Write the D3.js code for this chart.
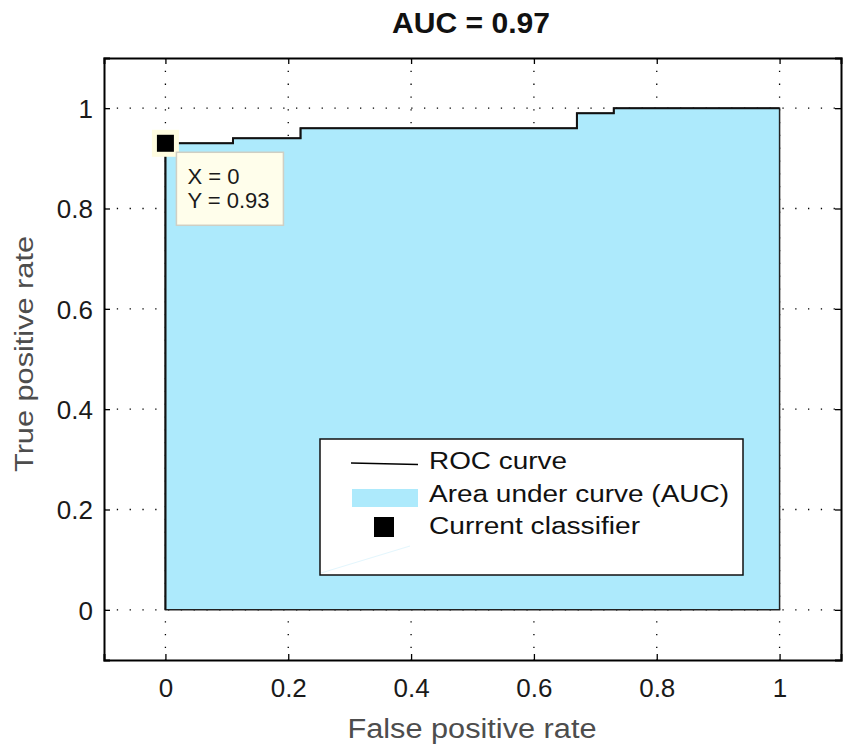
<!DOCTYPE html>
<html>
<head>
<meta charset="utf-8">
<script src="https://cdn.jsdelivr.net/npm/d3@7"></script>
<style>
body { margin: 0; background: #fff; }
text { font-family: "Liberation Sans", Arial, Helvetica, sans-serif; }
</style>
</head>
<body>
<script>
// ROC steps
var fpr = [0, 0, 0.11, 0.11, 0.22, 0.22, 0.67, 0.67, 0.73, 0.73, 1.0];
var tpr = [0, 0.93, 0.93, 0.94, 0.94, 0.96, 0.96, 0.99, 0.99, 1.0, 1.0];
var ticks = [0, 0.2, 0.4, 0.6, 0.8, 1];
var current = { x: 0, y: 0.93 };
var aucValue = 0.97;
var legendItems = ["ROC curve", "Area under curve (AUC)", "Current classifier"];
var legendWidths = [138, 300, 211]; // measured text lengths

var margin = { top: 58, right: 2, bottom: 86, left: 104 };
var W = 843, H = 746;
var width = W - margin.left - margin.right;
var height = H - margin.top - margin.bottom;

var fillColor = "#adeafc";

var svg = d3.select("body").append("svg")
	.attr("width", W)
	.attr("height", H);

var g = svg.append("g")
	.attr("transform", "translate(" + margin.left + "," + margin.top + ")");

var x = d3.scaleLinear().domain([-0.1, 1.1]).range([0, width]);
var y = d3.scaleLinear().domain([-0.1, 1.1]).range([height, 0]);

var pts = fpr.map(function(d, i) { return [d, tpr[i]]; });
var line = d3.line().x(function(d) { return x(d[0]); }).y(function(d) { return y(d[1]); });

// dotted grid
g.selectAll(".gx").data(ticks).enter().append("line")
	.attr("x1", function(d) { return x(d); }).attr("x2", function(d) { return x(d); })
	.attr("y1", 0).attr("y2", height)
	.attr("stroke", "#000").attr("stroke-width", 1.3)
	.attr("stroke-dasharray", "1.3,11.5");
g.selectAll(".gy").data(ticks).enter().append("line")
	.attr("y1", function(d) { return y(d); }).attr("y2", function(d) { return y(d); })
	.attr("x1", 0).attr("x2", width)
	.attr("stroke", "#000").attr("stroke-width", 1.3)
	.attr("stroke-dasharray", "1.3,11.5");

// area under curve
g.append("path")
	.attr("d", line(pts.concat([[1, 0]])) + "Z")
	.attr("fill", fillColor)
	.attr("stroke", "#222")
	.attr("stroke-width", 1.5);

// ROC curve
g.append("path")
	.attr("d", line(pts))
	.attr("fill", "none")
	.attr("stroke", "#111")
	.attr("stroke-width", 2);

// axes box
var fmt = d3.format("~g");
var axB = g.append("g").attr("transform", "translate(0," + height + ")")
	.call(d3.axisBottom(x).tickValues(ticks).tickSize(-6).tickPadding(19).tickFormat(fmt));
var axL = g.append("g")
	.call(d3.axisLeft(y).tickValues(ticks).tickSize(-6).tickPadding(11).tickFormat(fmt));
var axT = g.append("g")
	.call(d3.axisTop(x).tickValues(ticks).tickSize(-6).tickFormat(""));
var axR = g.append("g").attr("transform", "translate(" + width + ",0)")
	.call(d3.axisRight(y).tickValues(ticks).tickSize(-6).tickFormat(""));
[axB, axL, axT, axR].forEach(function(a) {
	a.select(".domain").attr("stroke", "#000").attr("stroke-width", 2);
	a.selectAll(".tick line").attr("stroke", "#000").attr("stroke-width", 1.3);
	a.selectAll(".tick text").attr("font-size", 26).attr("fill", "#1a1a1a")
		.style("font-family", "'Liberation Sans', Arial, sans-serif");
});
axB.selectAll(".tick text").attr("dy", "0.71em");
axL.selectAll(".tick text").attr("dy", "0.36em");

// current classifier data tip
var cx = x(current.x), cy = y(current.y);
g.append("rect")
	.attr("x", cx - 13.5).attr("y", cy - 13.5).attr("width", 27).attr("height", 27)
	.attr("fill", "#fffde0");
g.append("rect")
	.attr("x", cx - 8.5).attr("y", cy - 8.5).attr("width", 17).attr("height", 17)
	.attr("fill", "#000");
g.append("rect")
	.attr("x", cx + 11).attr("y", cy + 9).attr("width", 107).attr("height", 73)
	.attr("fill", "#fffeeb").attr("stroke", "#cfcfc4").attr("stroke-width", 1.5);
g.append("text").attr("x", cx + 22).attr("y", cy + 41)
	.attr("font-size", 22).attr("fill", "#1a1a1a").text("X = " + current.x);
g.append("text").attr("x", cx + 22).attr("y", cy + 65)
	.attr("font-size", 22).attr("fill", "#1a1a1a").text("Y = " + current.y);

// legend
var lg = g.append("g").attr("transform", "translate(" + (320 - margin.left) + "," + (439 - margin.top) + ")");
lg.append("rect").attr("width", 423).attr("height", 136)
	.attr("fill", "#fff").attr("stroke", "#111").attr("stroke-width", 1.5);
lg.append("line").attr("x1", 1).attr("y1", 134).attr("x2", 90).attr("y2", 107)
	.attr("stroke", "#e3f6fd").attr("stroke-width", 1);
lg.append("line").attr("x1", 31).attr("x2", 98).attr("y1", 24).attr("y2", 25.5)
	.attr("stroke", "#000").attr("stroke-width", 1.4);
lg.append("rect").attr("x", 32).attr("y", 50).attr("width", 66).attr("height", 18)
	.attr("fill", fillColor);
lg.append("rect").attr("x", 54).attr("y", 78).attr("width", 20).attr("height", 20)
	.attr("fill", "#000");
lg.selectAll(".lt").data(legendItems).enter().append("text")
	.attr("x", 109)
	.attr("y", function(d, i) { return 30 + i * 32.5; })
	.attr("font-size", 23).attr("fill", "#111")
	.attr("textLength", function(d, i) { return legendWidths[i]; })
	.attr("lengthAdjust", "spacingAndGlyphs")
	.text(function(d) { return d; });

// labels
svg.append("text").attr("x", 471).attr("y", 33)
	.attr("text-anchor", "middle").attr("font-size", 29).attr("font-weight", "bold")
	.attr("textLength", 158).attr("lengthAdjust", "spacingAndGlyphs")
	.attr("fill", "#111").text("AUC = " + aucValue);
svg.append("text").attr("x", 472).attr("y", 738)
	.attr("text-anchor", "middle").attr("font-size", 27).attr("fill", "#4d4d4d")
	.attr("textLength", 249).attr("lengthAdjust", "spacingAndGlyphs")
	.text("False positive rate");
svg.append("text")
	.attr("transform", "translate(33,354) rotate(-90)")
	.attr("text-anchor", "middle").attr("font-size", 26.5).attr("fill", "#4d4d4d")
	.attr("textLength", 236).attr("lengthAdjust", "spacingAndGlyphs")
	.text("True positive rate");
</script>
</body>
</html>
